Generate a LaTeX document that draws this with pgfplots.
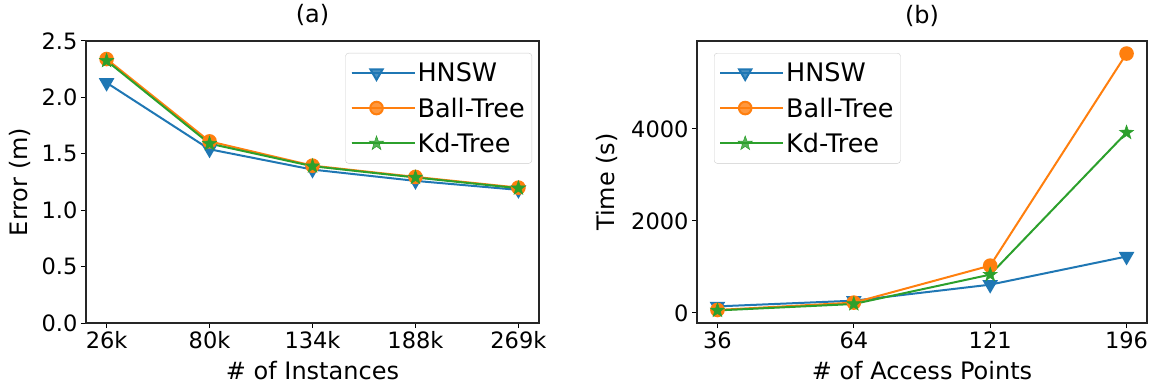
\documentclass[border=0pt]{standalone}
\usepackage{fontspec}
\setmainfont{DejaVu Sans}
\usepackage{pgfplots}
\pgfplotsset{compat=1.18}
\definecolor{tabblue}{HTML}{1F77B4}
\definecolor{taborange}{HTML}{FF7F0E}
\definecolor{tabgreen}{HTML}{2CA02C}
\newcommand\fs{\fontsize{22.5}{26}\selectfont}
\newcommand\fl{\fontsize{24}{28}\selectfont}
\newcommand\fleg{\fontsize{25.5}{29}\selectfont}
\pgfdeclareplotmark{fstar}{%
  \pgfpathmoveto{\pgfpointpolar{90}{\pgfplotmarksize}}%
  \pgfpathlineto{\pgfpointpolar{126}{0.4\pgfplotmarksize}}%
  \pgfpathlineto{\pgfpointpolar{162}{\pgfplotmarksize}}%
  \pgfpathlineto{\pgfpointpolar{198}{0.4\pgfplotmarksize}}%
  \pgfpathlineto{\pgfpointpolar{234}{\pgfplotmarksize}}%
  \pgfpathlineto{\pgfpointpolar{270}{0.4\pgfplotmarksize}}%
  \pgfpathlineto{\pgfpointpolar{306}{\pgfplotmarksize}}%
  \pgfpathlineto{\pgfpointpolar{342}{0.4\pgfplotmarksize}}%
  \pgfpathlineto{\pgfpointpolar{18}{\pgfplotmarksize}}%
  \pgfpathlineto{\pgfpointpolar{54}{0.4\pgfplotmarksize}}%
  \pgfpathclose
  \pgfusepathqfillstroke}
\pgfplotsset{
  mystyle/.style={
    scale only axis,
    height=282pt,
    axis line style={line width=1.1pt, black!85},
    tick align=outside,
    tick pos=lower,
    major tick length=5pt,
    every tick/.style={line width=1pt, black},
    /pgf/number format/assume math mode=true,
    /pgf/number format/1000 sep={},
    every tick label/.append style={font=\fs},
    label style={font=\fl},
    title style={font=\fl, at={(0.5,1)}, anchor=base, yshift=12pt},
    xlabel style={at={(axis description cs:0.5,-0.202)}, anchor=base},
    legend cell align=left,
    legend style={font=\fleg, draw=black!20, rounded corners=3pt, fill=white, fill opacity=0.8, text opacity=1,
      row sep=10.5pt, inner xsep=5pt, inner ysep=7.5pt},
    legend image code/.code={\draw[mark repeat=2,mark phase=2] plot coordinates {(0pt,0pt) (25pt,0pt) (50pt,0pt)};\path (0pt,0pt) -- (63pt,0pt);},
    xtick=data,
    scaled y ticks=false,
  },
  hnsw/.style={color=tabblue, line width=2pt, mark=triangle*, mark size=7pt, mark options={rotate=180, solid}},
  ball/.style={color=taborange, line width=2pt, mark=*, mark size=6.3pt, mark options={solid}},
  kd/.style={color=tabgreen, line width=2pt, mark=fstar, mark size=7.5pt, mark options={solid, line width=0.5pt}},
}
\begin{document}
\begin{tikzpicture}
\useasboundingbox (-86pt,-65pt) rectangle (1072pt,323pt);
\begin{axis}[mystyle,
  width=453pt,
  xmin=-0.2, xmax=4.2, ymin=0, ymax=2.5,
  xticklabels={26k,80k,134k,188k,269k},
  ytick={0,0.5,1,1.5,2,2.5},
  yticklabel style={/pgf/number format/.cd, fixed, fixed zerofill, precision=1},
  title={(a)},
  xlabel={\# of Instances},
  ylabel={Error (m)},
  ylabel style={at={(axis description cs:-0.145,0.5)}, anchor=center, rotate=0},
  legend style={at={(rel axis cs:1,1)}, xshift=-7pt, yshift=-12pt, anchor=north east},
]
\addplot[hnsw] coordinates {(0,2.13) (1,1.54) (2,1.36) (3,1.26) (4,1.18)};
\addplot[ball] coordinates {(0,2.34) (1,1.61) (2,1.395) (3,1.295) (4,1.20)};
\addplot[kd] coordinates {(0,2.325) (1,1.59) (2,1.39) (3,1.29) (4,1.195)};
\legend{HNSW,Ball-Tree,Kd-Tree}
\end{axis}
\begin{axis}[mystyle,
  at={(611pt,0pt)},
  width=450pt,
  xmin=-0.15, xmax=3.15, ymin=-218, ymax=5908,
  xticklabels={36,64,121,196},
  ytick={0,2000,4000},
  title={(b)},
  xlabel={\# of Access Points},
  ylabel={Time (s)},
  ylabel style={at={(axis description cs:-0.2,0.5)}, anchor=center, rotate=0},
  legend style={at={(rel axis cs:0,1)}, xshift=17pt, yshift=-12pt, anchor=north west},
]
\addplot[hnsw] coordinates {(0,143) (1,267) (2,615) (3,1227)};
\addplot[ball] coordinates {(0,65) (1,225) (2,1028) (3,5635)};
\addplot[kd] coordinates {(0,55) (1,195) (2,833) (3,3918)};
\legend{HNSW,Ball-Tree,Kd-Tree}
\end{axis}
\end{tikzpicture}
\end{document}
